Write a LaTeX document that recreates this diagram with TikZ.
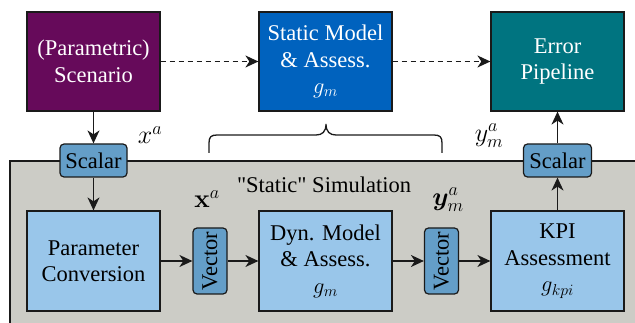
\RequirePackage{fix-cm}
\documentclass[tikz,border=0pt]{standalone}
\usepackage[no-math]{fontspec}
\setmainfont{Liberation Serif}
\newfontfamily\tmsf{Liberation Serif}
\usepackage{bm}
\usetikzlibrary{arrows.meta}
\definecolor{linec}{RGB}{26,26,26}
\definecolor{purplec}{RGB}{102,10,90}
\definecolor{bluec}{RGB}{0,98,190}
\definecolor{tealc}{RGB}{0,116,128}
\definecolor{lightb}{RGB}{153,198,234}
\definecolor{midblue}{RGB}{100,158,200}
\definecolor{greyc}{RGB}{204,204,198}
\begin{document}
\begin{tikzpicture}[x=1pt,y=-1pt,
  font=\tmsf\fontsize{22.5}{26.5}\selectfont,
  box/.style={draw=linec, line width=1.2pt, minimum width=133pt, minimum height=99pt, inner sep=0pt, align=center},
  small/.style={draw=linec, line width=1.2pt, fill=midblue, rounded corners=4pt, inner sep=0pt},
  arr/.style={draw=linec, line width=1.5pt, -{Stealth[length=13pt,width=12pt,inset=4pt]}},
  lbl/.style={inner sep=0pt, font=\fontsize{26}{30}\selectfont}]
\useasboundingbox (0,0) rectangle (635,323);
\fill[greyc] (10,161) rectangle (650,340);
\draw[linec, line width=1.2pt] (650,161) -- (10,161) -- (10,340);
\node[box, fill=purplec, text=white] (scen) at (93.5,61.5) {(Parametric)\\Scenario};
\node[box, fill=bluec, text=white] (stat) at (325.5,61.5) {Static Model\\\& Assess.\\$g_m$};
\node[box, fill=tealc, text=white] (err) at (557.5,61.5) {Error\\Pipeline};
\node[small, minimum width=67pt, minimum height=33pt] (sc1) at (93.5,160.5) {Scalar};
\node[small, minimum width=68pt, minimum height=33pt] (sc2) at (557.5,160.5) {Scalar};
\node[box, fill=lightb, minimum height=100pt] (pc) at (93.5,261) {Parameter\\Conversion};
\node[small, rotate=90, minimum width=66pt, minimum height=34pt] (v1) at (210,261) {Vector};
\node[box, fill=lightb, minimum height=100pt] (dyn) at (325.5,261) {Dyn. Model\\\& Assess.\\$g_m$};
\node[small, rotate=90, minimum width=66pt, minimum height=34pt] (v2) at (441.5,261) {Vector};
\node[box, fill=lightb, minimum height=100pt] (kpi) at (557.5,261) {KPI\\Assessment\\$g_{kpi}$};
\node[lbl] (xa) at (150,135) {$x^a$};
\node[lbl] (ya) at (489,136) {$y^a_m$};
\node[lbl] (xb) at (207,199) {$\mathbf{x}^a$};
\node[lbl] (yb) at (448,200) {$\bm{y}^a_m$};
\node[inner sep=0pt] (simt) at (324,185) {"Static" Simulation};
\draw[arr] (scen) -- (sc1);
\draw[arr] (sc1) -- (pc);
\draw[arr] (pc) -- (v1);
\draw[arr] (v1) -- (dyn);
\draw[arr] (dyn) -- (v2);
\draw[arr] (v2) -- (kpi);
\draw[arr] (kpi) -- (sc2);
\draw[arr] (sc2) -- (err);
\draw[arr, dash pattern=on 5pt off 4pt] (scen) -- (stat);
\draw[arr, dash pattern=on 5pt off 4pt] (stat) -- (err);
\draw[line width=1.3pt, linec] (209,153) -- (209,143) .. controls (209,137) and (211,135) .. (217,135) -- (316,135) .. controls (322,135) and (326,132) .. (326,124) .. controls (326,132) and (330,135) .. (336,135) -- (434,135) .. controls (440,135) and (442,137) .. (442,143) -- (442,153);
\end{tikzpicture}
\end{document}
